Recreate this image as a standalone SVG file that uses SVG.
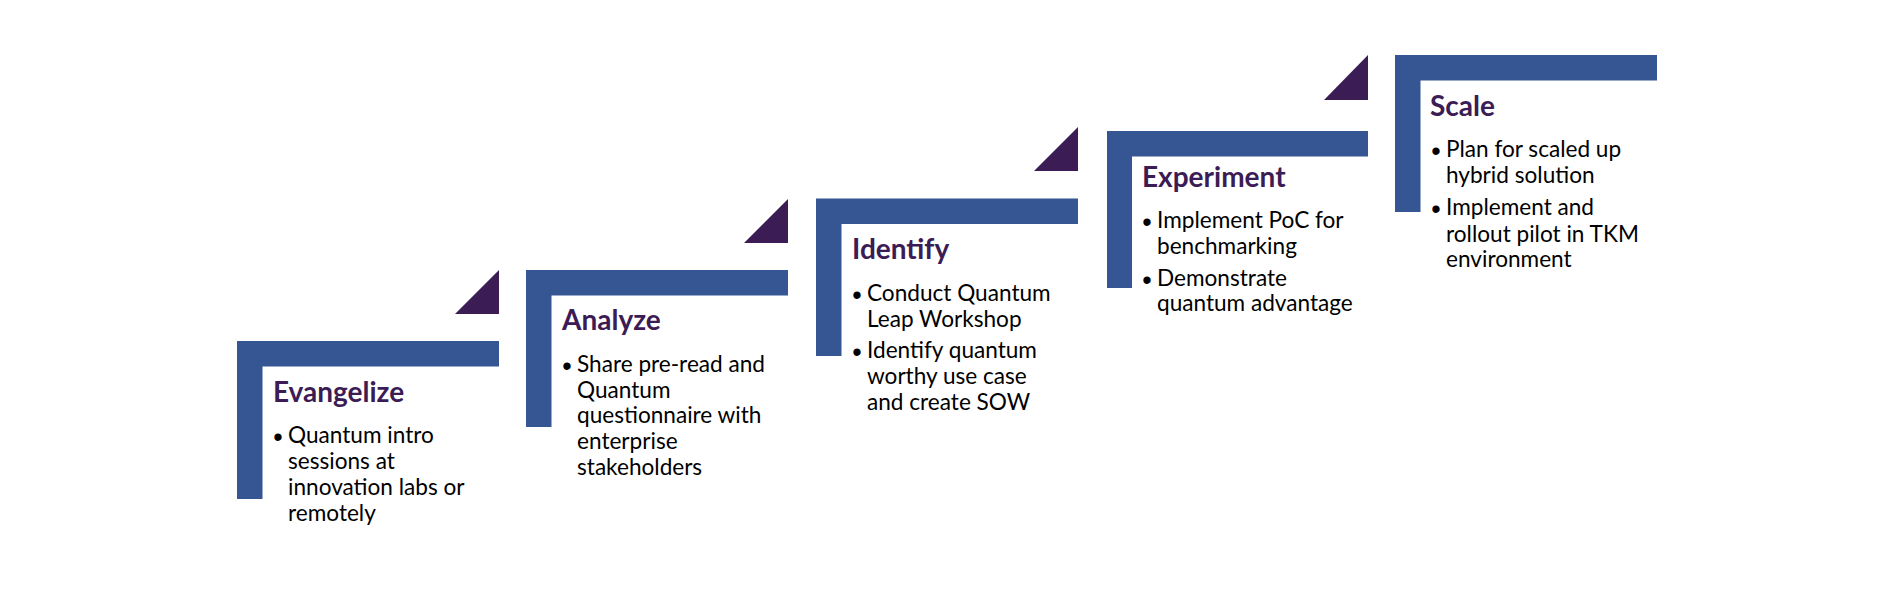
<svg xmlns="http://www.w3.org/2000/svg" width="1896" height="590" viewBox="0 0 1896 590">
<style>
.bar{fill:#355593}
.tri{fill:#3B1C55}
.title{font-family:Lato,"Open Sans","Liberation Sans",sans-serif;font-weight:bold;font-size:28px;fill:#3B1C55}
.body{font-family:Lato,"Open Sans","Liberation Sans",sans-serif;font-size:22.6px;fill:#000}
.dot{font-family:"Liberation Sans",sans-serif;font-size:27px;fill:#000;text-anchor:middle}
</style>
<rect width="1896" height="590" fill="#fff"/>
<g id="connectors">
<polygon class="tri" points="455,314 499,270 499,314"/>
<polygon class="tri" points="744,243 788,199 788,243"/>
<polygon class="tri" points="1034,171 1078,127 1078,171"/>
<polygon class="tri" points="1324,100 1368,55 1368,100"/>
</g>
<g id="evangelize">
<path class="bar" d="M237,341 H499 V366.5 H262.5 V499 H237 Z"/>
<text class="title" x="273" y="402">Evangelize</text>
<text class="dot" x="278" y="445.5">•</text>
<text class="body" x="288" y="443">Quantum intro</text>
<text class="body" x="288" y="469">sessions at</text>
<text class="body" x="288" y="495">innovation labs or</text>
<text class="body" x="288" y="521">remotely</text>
</g>
<g id="analyze">
<path class="bar" d="M526,270 H788 V295.5 H551.5 V427 H526 Z"/>
<text class="title" x="562" y="330">Analyze</text>
<text class="dot" x="567" y="374.5">•</text>
<text class="body" x="577" y="372">Share pre-read and</text>
<text class="body" x="577" y="397.5">Quantum</text>
<text class="body" x="577" y="423">questionnaire with</text>
<text class="body" x="577" y="448.5">enterprise</text>
<text class="body" x="577" y="474.5">stakeholders</text>
</g>
<g id="identify">
<path class="bar" d="M816,198.5 H1078 V224 H841.5 V356 H816 Z"/>
<text class="title" x="852" y="259">Identify</text>
<text class="dot" x="857" y="303.5">•</text>
<text class="body" x="867" y="301">Conduct Quantum</text>
<text class="body" x="867" y="326.5">Leap Workshop</text>
<text class="dot" x="857" y="360.5">•</text>
<text class="body" x="867" y="358">Identify quantum</text>
<text class="body" x="867" y="384">worthy use case</text>
<text class="body" x="867" y="410">and create SOW</text>
</g>
<g id="experiment">
<path class="bar" d="M1107,131 H1368 V156.5 H1132 V288 H1107 Z"/>
<text class="title" x="1142" y="187">Experiment</text>
<text class="dot" x="1147" y="230.5">•</text>
<text class="body" x="1157" y="228">Implement PoC for</text>
<text class="body" x="1157" y="253.5">benchmarking</text>
<text class="dot" x="1147" y="288.5">•</text>
<text class="body" x="1157" y="286">Demonstrate</text>
<text class="body" x="1157" y="311">quantum advantage</text>
</g>
<g id="scale">
<path class="bar" d="M1395,55 H1657 V80.5 H1420.5 V212 H1395 Z"/>
<text class="title" x="1430" y="116">Scale</text>
<text class="dot" x="1436" y="159.5">•</text>
<text class="body" x="1446" y="157">Plan for scaled up</text>
<text class="body" x="1446" y="183">hybrid solution</text>
<text class="dot" x="1436" y="217.5">•</text>
<text class="body" x="1446" y="215">Implement and</text>
<text class="body" x="1446" y="241.5">rollout pilot in TKM</text>
<text class="body" x="1446" y="267">environment</text>
</g>
</svg>
